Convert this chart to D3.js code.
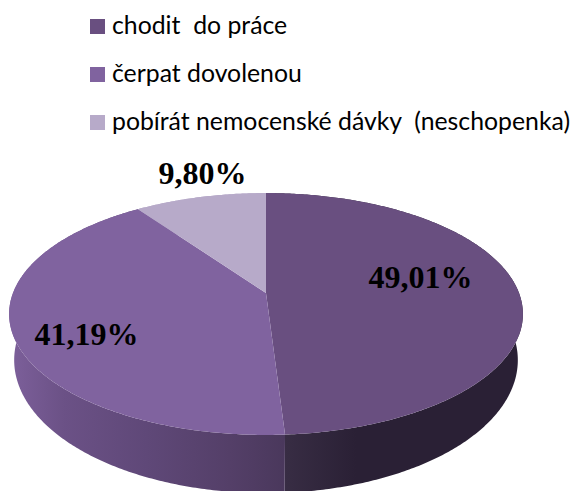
<!DOCTYPE html>
<html>
  <head>
    <meta charset="utf-8">
    <script type="text/javascript" src="https://cdn.jsdelivr.net/npm/d3@7"></script>
    <style>
      html, body { margin: 0; padding: 0; background: #fff; }
      svg { display: block; }
    </style>
  </head>
  <body>
    <script type="text/javascript">
    var categories = ["chodit  do práce", "čerpat dovolenou", "pobírát nemocenské dávky  (neschopenka)"];
    var values = [49.01, 41.19, 9.80];
    var valueLabels = ["49,01%", "41,19%", "9,80%"];
    var colors = ["#694f80", "#80639f", "#b7aac9"];

    var width = 576, height = 491;

    var svg = d3.select("body").append("svg")
        .attr("width", width)
        .attr("height", height);

    // perspective tilt, front of the pie looks bigger than the back
    var tilt = 0.1736;
    var topFace = { cx: 266, cy: 293, rx: 253, ry: 117.3 };
    var bottomFace = { cx: 266, cy: 337, rx: 248, ry: 129 };

    function project(face, a) {
        var u = Math.sin(a), v = -Math.cos(a), w = 1 - tilt * v;
        return [face.cx + face.rx * u / w, face.cy + face.ry * v / w];
    }

    function arcPoints(face, a0, a1) {
        var n = Math.ceil((a1 - a0) / 0.01);
        return d3.range(n + 1).map(function(i) {
            return project(face, a0 + (a1 - a0) * i / n);
        });
    }

    var slices = d3.pie().sort(null)(values);
    var color = d3.scaleOrdinal().domain(categories).range(colors);
    var line = d3.line();

    // side wall shading runs left to right
    var defs = svg.append("defs");
    var wallStops = [
        [[0, "#382d44"], [0.3, "#2a2035"], [1, "#2a2035"]],
        [[0, "#7d609b"], [0.2, "#6b5186"], [0.5, "#5f4878"], [0.8, "#543f68"], [1, "#4a385c"]],
        [[0, "#b7aac9"], [1, "#b7aac9"]]
    ];
    var wallRange = [[285, 523], [9, 285], [140, 266]];
    wallStops.forEach(function(stops, i) {
        var g = defs.append("linearGradient")
            .attr("id", "wall" + i)
            .attr("gradientUnits", "userSpaceOnUse")
            .attr("x1", wallRange[i][0]).attr("y1", 0)
            .attr("x2", wallRange[i][1]).attr("y2", 0);
        stops.forEach(function(s) {
            g.append("stop").attr("offset", s[0]).attr("stop-color", s[1]);
        });
    });

    svg.append("g").selectAll("path")
        .data(slices)
        .enter()
        .append("path")
        .attr("d", function(d) {
            var pts = arcPoints(topFace, d.startAngle, d.endAngle)
                .concat(arcPoints(bottomFace, d.startAngle, d.endAngle).reverse());
            return line(pts) + "Z";
        })
        .style("fill", function(d, i) { return "url(#wall" + i + ")"; });

    svg.append("g").selectAll("path")
        .data(slices)
        .enter()
        .append("path")
        .attr("d", function(d) {
            var pts = [[topFace.cx, topFace.cy]].concat(arcPoints(topFace, d.startAngle, d.endAngle));
            return line(pts) + "Z";
        })
        .style("fill", function(d, i) { return color(categories[i]); });

    // legend
    var legendBase = [34, 82, 130];
    var legend = svg.append("g").selectAll("g")
        .data(categories)
        .enter()
        .append("g");

    legend.append("rect")
        .attr("x", 90)
        .attr("y", function(d, i) { return legendBase[i] - 15; })
        .attr("width", 15)
        .attr("height", 15)
        .style("fill", function(d) { return color(d); });

    legend.append("text")
        .attr("x", 112)
        .attr("y", function(d, i) { return legendBase[i]; })
        .attr("xml:space", "preserve")
        .style("white-space", "pre")
        .style("font-family", "Lato")
        .style("font-size", "24.8px")
        .style("fill", "#000")
        .text(function(d) { return d; });

    // value labels
    var labelX = [420.5, 86.5, 202.5];
    var labelY = [288, 345, 184];
    svg.append("g").selectAll("text")
        .data(valueLabels)
        .enter()
        .append("text")
        .attr("x", function(d, i) { return labelX[i]; })
        .attr("y", function(d, i) { return labelY[i]; })
        .attr("text-anchor", "middle")
        .style("font-family", "Liberation Serif")
        .style("font-weight", "bold")
        .style("font-size", "32px")
        .style("fill", "#000")
        .text(function(d) { return d; });
    </script>
  </body>
</html>
